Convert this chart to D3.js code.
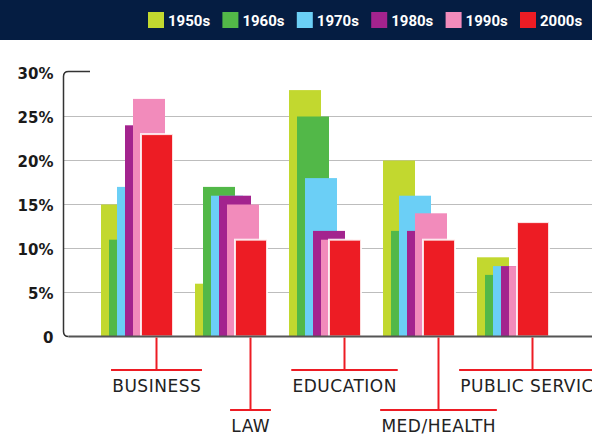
<!DOCTYPE html>
<html>
<head>
<meta charset="utf-8">
<script src="https://cdn.jsdelivr.net/npm/d3@7"></script>
<style>
  body { margin: 0; background: #fff; }
  svg { display: block; }
</style>
</head>
<body>
<div id="graph"></div>
<script>
var categories = ["BUSINESS", "LAW", "EDUCATION", "MED/HEALTH", "PUBLIC SERVICE"];
var label_row = [0, 1, 0, 1, 0];
var decades = ["1950s", "1960s", "1970s", "1980s", "1990s", "2000s"];
var colors = ["#c2d82f", "#52b848", "#6bcff6", "#a3238e", "#f28bbb", "#ed1c24"];
var v1950s = [15, 6, 28, 20, 9];
var v1960s = [11, 17, 25, 12, 7];
var v1970s = [17, 16, 18, 16, 8];
var v1980s = [24, 16, 12, 12, 8];
var v1990s = [27, 15, 11, 14, 8];
var v2000s = [23, 11, 11, 11, 13];
var y_ticks = [0, 5, 10, 15, 20, 25, 30];

var series = [v1950s, v1960s, v1970s, v1980s, v1990s, v2000s];

function draw_chart(){
  var width = 592, height = 435;
  var barw = 32;

  var svg = d3.select("#graph").append("svg")
    .attr("width", width)
    .attr("height", height);

  // header band with legend
  svg.append("rect")
    .attr("x", 0).attr("y", 0)
    .attr("width", width).attr("height", 40)
    .attr("fill", "#051d42");

  var leg = svg.selectAll(".leg")
    .data(decades)
    .enter().append("g")
    .attr("transform", function(d, i){ return "translate(" + (148 + i * 74.4) + ",12)"; });
  leg.append("rect")
    .attr("width", 16).attr("height", 16)
    .attr("fill", function(d, i){ return colors[i]; });
  leg.append("text")
    .attr("x", 20).attr("y", 14)
    .attr("fill", "#fff")
    .attr("font-family", "Roboto, sans-serif")
    .attr("font-weight", "bold")
    .attr("font-size", 15)
    .text(function(d){ return d; });

  //scales
  var xscale = d3.scaleBand().domain(categories).range([101, 571]);
  var inner = d3.scalePoint().domain(decades).range([0, 40]);
  var yscale = d3.scaleLinear().domain([0, 30]).range([336.5, 72.5]);

  // gridlines
  svg.selectAll(".grid")
    .data(y_ticks.filter(function(t){ return t > 0 && t < 30; }))
    .enter().append("line")
    .attr("x1", 63).attr("x2", width)
    .attr("y1", function(d){ return yscale(d); })
    .attr("y2", function(d){ return yscale(d); })
    .attr("stroke", "#bdbdbd")
    .attr("stroke-width", 1.2);

  // y labels
  svg.selectAll(".ylab")
    .data(y_ticks)
    .enter().append("text")
    .attr("x", 53.5)
    .attr("y", function(d){ return yscale(d) + 1; })
    .attr("dy", "0.36em")
    .attr("text-anchor", "end")
    .attr("font-family", "DejaVu Sans, sans-serif")
    .attr("font-weight", "bold")
    .attr("font-size", 15)
    .attr("fill", "#1a1a1a")
    .text(function(d){ return d == 0 ? "0" : d + "%"; });

  // bars, one decade at a time so later ones sit on top
  decades.forEach(function(dec, k){
    var last = k == decades.length - 1;
    svg.selectAll(".bar" + k)
      .data(series[k])
      .enter().append("rect")
      .attr("x", function(d, i){ return xscale(categories[i]) + inner(dec); })
      .attr("y", function(d){ return yscale(d); })
      .attr("width", barw)
      .attr("height", function(d){ return yscale(0) - yscale(d); })
      .attr("fill", colors[k])
      .attr("stroke", last ? "#fff" : "none")
      .attr("stroke-opacity", 0.85)
      .attr("stroke-width", last ? 2 : 0);
  });

  // bracket axis
  var top = 71.5, left = 63.5, bottom = 336.5, r = 5;
  svg.append("path")
    .attr("d", "M90," + top + "H" + (left + r) + "Q" + left + "," + top + " " + left + "," + (top + r)
      + "V" + (bottom - r) + "Q" + left + "," + bottom + " " + (left + r) + "," + bottom)
    .attr("fill", "none")
    .attr("stroke", "#333")
    .attr("stroke-width", 1.5);
  svg.append("line")
    .attr("x1", left + r).attr("x2", width)
    .attr("y1", bottom).attr("y2", bottom)
    .attr("stroke", "#555")
    .attr("stroke-width", 2);

  // category labels hung from the red bars
  var lab = svg.selectAll(".cat")
    .data(categories)
    .enter().append("g");
  lab.each(function(d, i){
    var g = d3.select(this);
    var cx = xscale(d) + inner("2000s") + barw / 2 - 0.5;
    var ly = label_row[i] == 0 ? 370 : 410;
    var t = g.append("text")
      .attr("x", cx + 0.25)
      .attr("y", ly + 22)
      .attr("text-anchor", "middle")
      .attr("font-family", "DejaVu Sans, sans-serif")
      .attr("font-size", 17)
      .attr("letter-spacing", 0.5)
      .attr("fill", "#222")
      .text(d);
    var w = t.node().getComputedTextLength();
    g.append("line")
      .attr("x1", cx).attr("x2", cx)
      .attr("y1", bottom + 1).attr("y2", ly)
      .attr("stroke", "#ed1c24").attr("stroke-width", 2);
    g.append("line")
      .attr("x1", cx - w / 2 - 1).attr("x2", cx + w / 2 + 1)
      .attr("y1", ly).attr("y2", ly)
      .attr("stroke", "#ed1c24").attr("stroke-width", 2);
  });
}

draw_chart();
</script>
</body>
</html>
